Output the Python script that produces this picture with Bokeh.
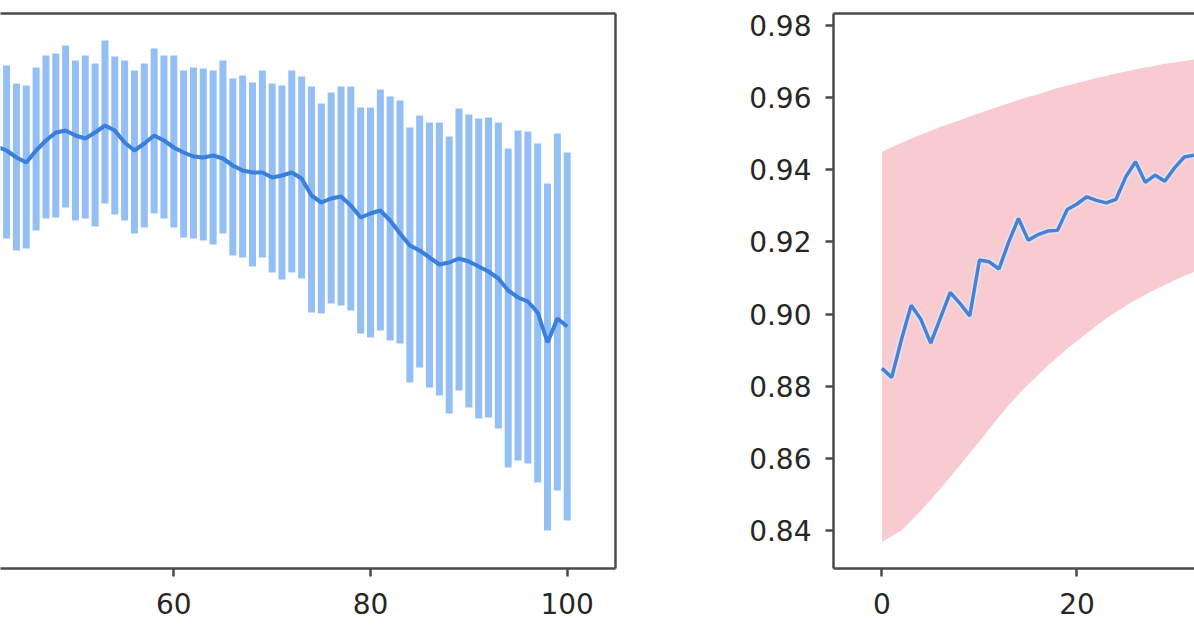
from bokeh.plotting import figure
from bokeh.layouts import row
from bokeh.models import LinearAxis, FixedTicker, PrintfTickFormatter, Range1d
from bokeh.embed import file_html
from bokeh.resources import INLINE

# ---------------- data ----------------
# left panel: mean with error bars (only the visible part, x = 42..100)
left_x = list(range(42, 101))
left_mean = [4.22,
             4.18, 4.11, 4.06, 4.18, 4.28, 4.36, 4.38, 4.33, 4.30, 4.36,
             4.43, 4.38, 4.26, 4.18, 4.25, 4.33, 4.28, 4.21, 4.16, 4.12,
             4.11, 4.13, 4.10, 4.03, 3.98, 3.96, 3.96, 3.91, 3.93, 3.96,
             3.90, 3.73, 3.66, 3.70, 3.72, 3.63, 3.51, 3.55, 3.58, 3.48,
             3.35, 3.23, 3.18, 3.11, 3.04, 3.06, 3.10, 3.07, 3.02, 2.97,
             2.90, 2.78, 2.71, 2.67, 2.56, 2.26, 2.50, 2.42]
left_upper = [5.05,
              5.03, 4.85, 4.83, 5.01, 5.13, 5.15, 5.23, 5.08, 5.13, 5.05,
              5.28, 5.12, 5.08, 4.98, 5.05, 5.20, 5.13, 5.13, 4.98, 5.01,
              5.00, 4.98, 5.08, 4.90, 4.93, 4.86, 4.98, 4.85, 4.83, 4.98,
              4.92, 4.82, 4.65, 4.76, 4.82, 4.82, 4.61, 4.61, 4.79, 4.72,
              4.68, 4.41, 4.53, 4.46, 4.46, 4.32, 4.60, 4.54, 4.50, 4.51,
              4.46, 4.20, 4.38, 4.37, 4.25, 3.85, 4.35, 4.16]
left_lower = [3.38,
              3.30, 3.18, 3.20, 3.38, 3.50, 3.51, 3.61, 3.48, 3.50, 3.42,
              3.65, 3.54, 3.48, 3.35, 3.41, 3.55, 3.50, 3.41, 3.31, 3.30,
              3.28, 3.24, 3.35, 3.13, 3.11, 3.02, 3.11, 2.96, 2.89, 2.96,
              2.90, 2.56, 2.55, 2.65, 2.63, 2.58, 2.35, 2.31, 2.38, 2.28,
              2.25, 1.86, 2.01, 1.81, 1.73, 1.55, 1.78, 1.61, 1.50, 1.51,
              1.40, 1.01, 1.08, 1.05, 0.86, 0.38, 0.78, 0.48]
left_xticks = [0, 20, 40, 60, 80, 100]

# right panel: mean line with shaded band (visible part, x = 0..32)
right_x = list(range(0, 33))
right_mean = [0.8850, 0.8825, 0.8930, 0.9025, 0.8985, 0.8920, 0.8990, 0.9060,
              0.9030, 0.8995, 0.9150, 0.9145, 0.9125, 0.9200, 0.9265, 0.9205,
              0.9220, 0.9230, 0.9232, 0.9290, 0.9305, 0.9325, 0.9315, 0.9308,
              0.9318, 0.9380, 0.9422, 0.9365, 0.9385, 0.9368, 0.9405, 0.9435,
              0.9440]
right_upper = [0.9449, 0.9462, 0.9474, 0.9486, 0.9497, 0.9508, 0.9518, 0.9528,
               0.9537, 0.9547, 0.9557, 0.9566, 0.9575, 0.9584, 0.9593, 0.9601,
               0.9609, 0.9617, 0.9626, 0.9633, 0.9640, 0.9647, 0.9654, 0.9660,
               0.9666, 0.9672, 0.9678, 0.9683, 0.9688, 0.9693, 0.9697, 0.9701,
               0.9705]
right_lower = [0.8370, 0.8385, 0.8402, 0.8428, 0.8456, 0.8486, 0.8517, 0.8549,
               0.8582, 0.8615, 0.8648, 0.8682, 0.8716, 0.8748, 0.8778, 0.8805,
               0.8831, 0.8857, 0.8881, 0.8904, 0.8926, 0.8947, 0.8968, 0.8988,
               0.9006, 0.9023, 0.9039, 0.9054, 0.9068, 0.9081, 0.9094, 0.9106,
               0.9117]
right_xticks = [0, 20, 40, 60, 80, 100]
right_yticks = [0.84, 0.86, 0.88, 0.90, 0.92, 0.94, 0.96, 0.98]

# ---------------- style ----------------
FONT = "DejaVu Sans"
AX = "#4a4a4a"
TXT = "#262626"
FS = "28px"


def style_axis(ax, ticks, standoff):
    ax.ticker = FixedTicker(ticks=ticks)
    ax.axis_line_color = AX
    ax.axis_line_width = 2.5
    ax.major_tick_line_color = AX
    ax.major_tick_line_width = 2.5
    ax.major_tick_out = 8
    ax.major_tick_in = 0
    ax.minor_tick_line_color = None
    ax.major_label_text_font = FONT
    ax.major_label_text_font_size = FS
    ax.major_label_text_color = TXT
    ax.major_label_standoff = standoff


def frame_axis(p, loc):
    ax = LinearAxis(ticker=FixedTicker(ticks=[]), axis_line_color=AX,
                    axis_line_width=2.5, major_tick_out=0, major_tick_in=0,
                    minor_tick_out=0, minor_tick_in=0, major_label_standoff=0,
                    major_label_text_font_size="0px")
    p.add_layout(ax, loc)


def base(p):
    p.outline_line_color = None
    p.xgrid.visible = False
    p.ygrid.visible = False
    p.background_fill_color = "white"
    p.border_fill_color = "white"


# ---------------- left panel ----------------
p1 = figure(frame_width=615, frame_height=555,
            x_range=Range1d(42.38, 104.91), y_range=Range1d(0.0, 5.55),
            min_border_left=0, min_border_right=85, min_border_top=13,
            min_border_bottom=60, y_axis_location=None,
            output_backend="svg", toolbar_location=None)
base(p1)
style_axis(p1.xaxis[0], left_xticks, 16)
frame_axis(p1, "above")
frame_axis(p1, "right")

p1.segment(x0=left_x, y0=left_lower, x1=left_x, y1=left_upper,
           line_color="#93bff5", line_width=7)
p1.line(left_x, left_mean, line_color="#3a7fdb", line_width=4)

# ---------------- right panel ----------------
p2 = figure(frame_width=361, frame_height=555,
            x_range=Range1d(-4.97, 32.05), y_range=Range1d(0.82959, 0.98324),
            min_border_left=133, min_border_right=0, min_border_top=13,
            min_border_bottom=60,
            output_backend="svg", toolbar_location=None)
base(p2)
style_axis(p2.xaxis[0], right_xticks, 16)
style_axis(p2.yaxis[0], right_yticks, 14)
p2.yaxis[0].formatter = PrintfTickFormatter(format="%.2f")
frame_axis(p2, "above")

p2.varea(x=right_x, y1=right_lower, y2=right_upper, fill_color="#f8cbd1")
p2.line(right_x, right_mean, line_color="#dce6fa", line_width=7, line_alpha=0.8)
p2.line(right_x, right_mean, line_color="#4a80d4", line_width=3.5)

layout = row(p1, p2)

open("out.html", "w").write(file_html(layout, INLINE))
